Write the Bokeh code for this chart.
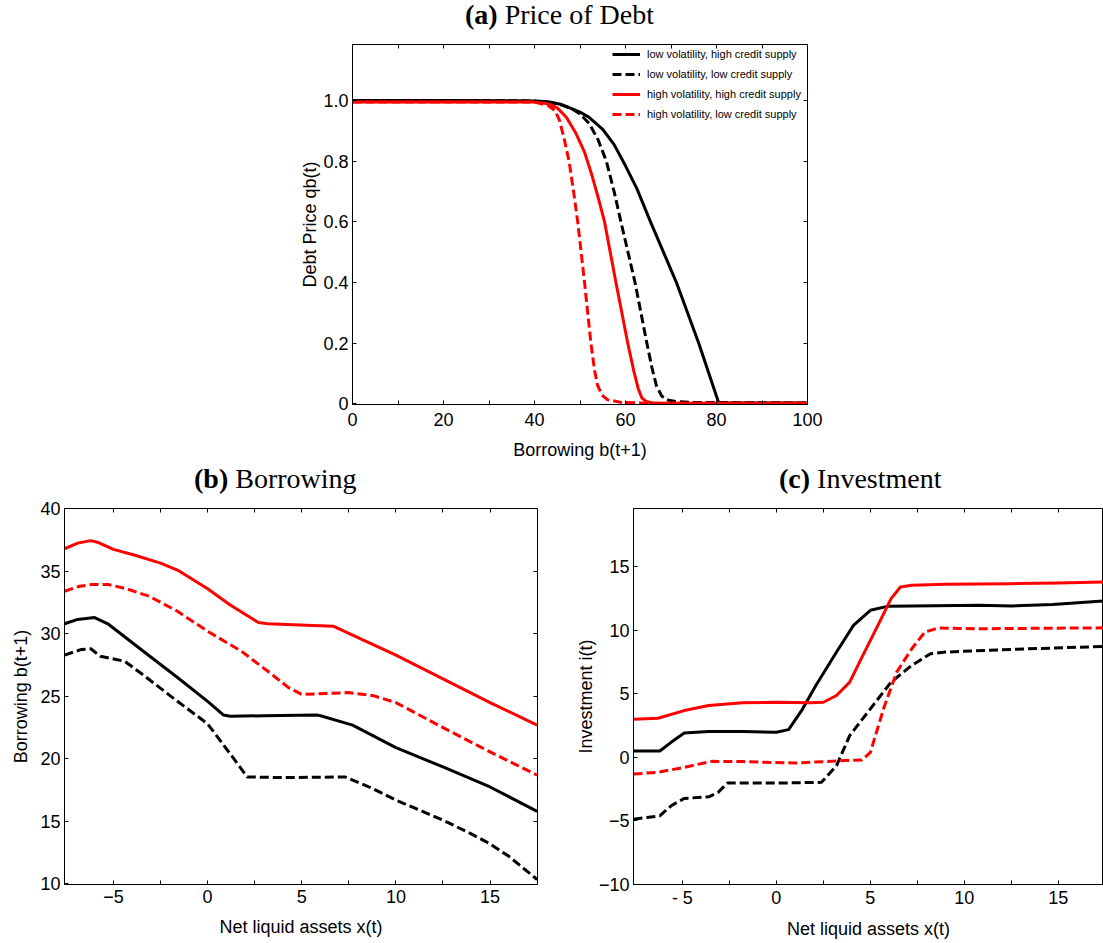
from bokeh.plotting import figure
from bokeh.models import Range1d, FixedTicker, LinearAxis, Legend, LegendItem, Div
from bokeh.layouts import column, row
from bokeh.embed import file_html
from bokeh.resources import INLINE

# ---------------- (a) Price of Debt ----------------
b_lv_hc = [0, 20, 40, 43, 46, 50, 52, 55, 57.5, 60, 62.5, 65.5, 71.2, 76.1, 80.5, 90, 100]
q_lv_hc = [1.0, 1.0, 0.999, 0.996, 0.987, 0.962, 0.945, 0.905, 0.855, 0.785, 0.71, 0.6, 0.4, 0.2, 0.003, 0.003, 0.003]

b_lv_lc = [0, 20, 40, 45, 48, 50, 52, 54, 55.8, 57.5, 59, 62.1, 64.7, 65.8, 66.8, 68, 69.5, 71, 75, 100]
q_lv_lc = [1.0, 1.0, 0.999, 0.99, 0.975, 0.956, 0.925, 0.87, 0.8, 0.7, 0.6, 0.4, 0.2, 0.12, 0.06, 0.025, 0.012, 0.008, 0.005, 0.003]

b_hv_hc = [0, 20, 40, 43, 45, 47, 49, 51, 52.5, 54, 55.4, 57.9, 60.5, 61.8, 62.8, 63.6, 64.5, 66, 100]
q_hv_hc = [0.995, 0.995, 0.995, 0.99, 0.976, 0.945, 0.895, 0.83, 0.76, 0.68, 0.6, 0.4, 0.2, 0.11, 0.05, 0.02, 0.008, 0.003, 0.002]

b_hv_lc = [0, 20, 40, 43, 44.5, 45.5, 46.5, 47.6, 48.5, 49.5, 51, 52.4, 53.2, 53.9, 54.8, 56, 59, 65, 100]
q_hv_lc = [0.995, 0.995, 0.995, 0.984, 0.967, 0.935, 0.875, 0.8, 0.71, 0.6, 0.4, 0.2, 0.11, 0.06, 0.03, 0.014, 0.005, 0.002, 0.002]

series_labels = ["low volatility, high credit supply", "low volatility, low credit supply",
                 "high volatility, high credit supply", "high volatility, low credit supply"]

# ---------------- (b) Borrowing ----------------
xb_hv_hc = [-7.6, -6.9, -6.2, -5.8, -5.0, -3.9, -2.5, -1.6, 0, 1.2, 2.7, 3.2, 4.9, 6.7, 7.7, 10, 12.5, 15, 17.5]
bb_hv_hc = [36.8, 37.25, 37.45, 37.3, 36.75, 36.3, 35.65, 35.1, 33.6, 32.3, 30.9, 30.8, 30.7, 30.6, 29.9, 28.3, 26.4, 24.5, 22.7]

xb_hv_lc = [-7.6, -6.8, -6.1, -5.3, -4.3, -3.1, -1.6, 0, 1.8, 3.2, 4.3, 5.0, 5.8, 7.5, 8.8, 10, 12.5, 15, 17.5]
bb_hv_lc = [33.4, 33.8, 33.95, 33.95, 33.6, 33.0, 31.8, 30.2, 28.6, 27.0, 25.7, 25.15, 25.2, 25.3, 25.05, 24.5, 22.5, 20.55, 18.7]

xb_lv_hc = [-7.6, -6.9, -6.0, -5.3, -3.5, -1.6, 0, 0.85, 1.2, 3, 5.8, 6.0, 7.7, 10, 12.5, 15, 17.5]
bb_lv_hc = [30.8, 31.15, 31.3, 30.8, 28.7, 26.5, 24.6, 23.5, 23.4, 23.45, 23.5, 23.45, 22.7, 20.9, 19.35, 17.75, 15.8]

xb_lv_lc = [-7.6, -6.7, -6.2, -5.7, -4.4, -3.5, -1.6, 0, 1.2, 2.1, 4.0, 7.3, 8.8, 10, 12.5, 14, 15, 16, 17.5]
bb_lv_lc = [28.3, 28.75, 28.8, 28.2, 27.8, 26.8, 24.6, 22.8, 20.4, 18.55, 18.5, 18.55, 17.6, 16.7, 15.1, 14.0, 13.2, 12.2, 10.35]

# ---------------- (c) Investment ----------------
xi_hv_hc = [-7.6, -6.3, -4.9, -3.6, -1.8, 0, 1.8, 2.5, 3.2, 3.9, 4.6, 5.4, 6.1, 6.6, 7.2, 9.0, 12.5, 15, 17.5]
ii_hv_hc = [3.0, 3.08, 3.68, 4.08, 4.29, 4.34, 4.29, 4.34, 4.87, 5.92, 8.03, 10.39, 12.5, 13.42, 13.55, 13.63, 13.68, 13.74, 13.82]

xi_lv_hc = [-7.6, -6.2, -5.6, -4.9, -3.6, -1.8, 0, 0.65, 1.4, 2.1, 3.2, 4.1, 5.0, 5.9, 7.2, 10.8, 12.5, 14.7, 17.5]
ii_lv_hc = [0.5, 0.5, 1.18, 1.92, 2.03, 2.03, 1.97, 2.18, 3.82, 5.66, 8.29, 10.39, 11.58, 11.89, 11.92, 11.97, 11.92, 12.03, 12.32]

xi_hv_lc = [-7.6, -6.3, -4.9, -3.45, -1.8, 1.0, 3.6, 4.55, 5.0, 5.7, 6.4, 7.2, 7.9, 8.6, 10.8, 17.5]
ii_hv_lc = [-1.32, -1.18, -0.79, -0.32, -0.34, -0.45, -0.26, -0.21, 0.39, 3.82, 6.71, 8.55, 9.87, 10.18, 10.13, 10.2]

xi_lv_lc = [-7.6, -6.2, -5.6, -4.9, -3.6, -3.1, -2.6, 0, 2.4, 3.2, 3.9, 5.0, 6.1, 7.2, 8.2, 9.0, 12.5, 17.5]
ii_lv_lc = [-4.87, -4.61, -3.82, -3.24, -3.11, -2.76, -2.03, -2.03, -1.97, -0.66, 1.71, 3.82, 5.92, 7.24, 8.16, 8.29, 8.5, 8.74]

# tick definitions
a_xticks, a_xminor = [0, 20, 40, 60, 80, 100], [10, 30, 50, 70, 90]
a_yticks = [0, 0.2, 0.4, 0.6, 0.8, 1.0]
a_ylabels = {0: "0", 0.2: "0.2", 0.4: "0.4", 0.6: "0.6", 0.8: "0.8", 1.0: "1.0"}
bc_xticks, bc_xminor = [-5, 0, 5, 10, 15], [-2.5, 2.5, 7.5, 12.5]
b_yticks = [10, 15, 20, 25, 30, 35, 40]
c_yticks = [-10, -5, 0, 5, 10, 15]
c_xlabels = {-5: "- 5"}

# panel titles: bold tag + plain text
title_tags = ["(a)", "(b)", "(c)"]
title_texts = ["Price of Debt", "Borrowing", "Investment"]

SANS = "Liberation Sans"
SERIF = "Liberation Serif"
DASH = "9 4"
LW = 3
W = 1103


def style_axis(ax, major, minor, overrides=None):
    ax.ticker = FixedTicker(ticks=major, minor_ticks=minor)
    ax.major_tick_in = 4
    ax.major_tick_out = 0
    ax.minor_tick_in = 4
    ax.minor_tick_out = 0
    ax.axis_line_color = "black"
    ax.major_tick_line_color = "black"
    ax.minor_tick_line_color = "black"
    ax.major_label_text_font = SANS
    ax.major_label_text_font_size = "18px"
    ax.major_label_text_color = "black"
    ax.axis_label_text_font = SANS
    ax.axis_label_text_font_size = "18px"
    ax.axis_label_text_font_style = "normal"
    ax.axis_label_text_color = "black"
    ax.major_label_standoff = 4
    if overrides:
        ax.major_label_overrides = overrides


def mirror(p, side, minor):
    ax = LinearAxis(ticker=FixedTicker(ticks=[], minor_ticks=minor))
    ax.axis_line_color = None
    ax.major_tick_in = 0
    ax.major_tick_out = 0
    ax.minor_tick_in = 4
    ax.minor_tick_out = 0
    ax.minor_tick_line_color = "black"
    ax.major_label_standoff = 0
    p.add_layout(ax, side)


def make_fig(xr, yr, fw, fh, bl, br, bt, bb):
    p = figure(x_range=Range1d(*xr), y_range=Range1d(*yr), frame_width=fw, frame_height=fh,
               min_border_left=bl, min_border_right=br, min_border_top=bt, min_border_bottom=bb,
               output_backend="svg", toolbar_location=None)
    p.xgrid.visible = False
    p.ygrid.visible = False
    p.outline_line_color = "black"
    p.outline_line_width = 1
    p.outline_line_alpha = 1
    p.background_fill_color = "white"
    p.border_fill_color = "white"
    return p


def title_div(tag, txt, width, height, indent):
    return Div(text=f"<b>{tag}</b> {txt}", width=width, height=height,
               styles={"font-family": SERIF, "font-size": "28px", "line-height": f"{height}px",
                       "text-indent": f"{indent}px", "white-space": "nowrap", "color": "black",
                       "margin": "0", "padding": "0", "overflow": "hidden"})


def four_lines(p, xs, ys):
    styles = [("black", "solid"), ("black", DASH), ("red", "solid"), ("red", DASH)]
    rs = []
    for (x, y), (c, d) in zip(zip(xs, ys), styles):
        rs.append(p.line(x, y, line_color=c, line_dash=d, line_width=LW, line_join="round"))
    return rs


# ---- title (a)
ta = title_div(title_tags[0], title_texts[0], W, 30, 465)

# ---- figure (a)
pa = make_fig((0, 100), (-0.002, 1.185), 455, 360, 352, 296, 14, 56)
ra = four_lines(pa, [b_lv_hc, b_lv_lc, b_hv_hc, b_hv_lc], [q_lv_hc, q_lv_lc, q_hv_hc, q_hv_lc])
style_axis(pa.xaxis[0], a_xticks, a_xminor)
style_axis(pa.yaxis[0], a_yticks, [], a_ylabels)
pa.xaxis[0].axis_label = "Borrowing b(t+1)"
pa.yaxis[0].axis_label = "Debt Price qb(t)"
pa.xaxis[0].major_label_standoff = 8
pa.xaxis[0].axis_label_standoff = 11
pa.yaxis[0].axis_label_standoff = 0
mirror(pa, "above", a_xminor + [20, 40, 60, 80])
mirror(pa, "right", [0.2, 0.4, 0.6, 0.8, 1.0])
legend = Legend(items=[LegendItem(label=lab, renderers=[r]) for lab, r in zip(series_labels, ra)],
                location="top_right", label_text_font=SANS, label_text_font_size="11px",
                label_text_color="black", glyph_width=28, glyph_height=20, label_height=20,
                label_width=160, label_standoff=7, spacing=0, padding=5, margin=0,
                border_line_color=None, background_fill_alpha=0)
pa.add_layout(legend)

# ---- titles (b), (c)
tb = title_div(title_tags[1], title_texts[1], 570, 33, 194)
tc = title_div(title_tags[2], title_texts[2], 533, 33, 209)

# ---- figure (b)
pb = make_fig((-7.6, 17.52), (9.95, 40.02), 473, 376, 64, 33, 13, 61)
four_lines(pb, [xb_lv_hc, xb_lv_lc, xb_hv_hc, xb_hv_lc], [bb_lv_hc, bb_lv_lc, bb_hv_hc, bb_hv_lc])
style_axis(pb.xaxis[0], bc_xticks, bc_xminor)
style_axis(pb.yaxis[0], b_yticks, [])
pb.xaxis[0].axis_label = "Net liquid assets x(t)"
pb.yaxis[0].axis_label = "Borrowing b(t+1)"
pb.xaxis[0].major_label_standoff = 5
pb.xaxis[0].axis_label_standoff = 11
pb.yaxis[0].axis_label_standoff = 6
mirror(pb, "above", bc_xticks + bc_xminor)
mirror(pb, "right", [15, 20, 25, 30, 35])

# ---- figure (c)
pc = make_fig((-7.6, 17.4), (-10.02, 19.6), 470, 376, 63, 0, 13, 61)
four_lines(pc, [xi_lv_hc, xi_lv_lc, xi_hv_hc, xi_hv_lc], [ii_lv_hc, ii_lv_lc, ii_hv_hc, ii_hv_lc])
style_axis(pc.xaxis[0], bc_xticks, bc_xminor, c_xlabels)
style_axis(pc.yaxis[0], c_yticks, [])
pc.xaxis[0].axis_label = "Net liquid assets x(t)"
pc.yaxis[0].axis_label = "Investment i(t)"
pc.xaxis[0].major_label_standoff = 3
pc.xaxis[0].axis_label_standoff = 8
pc.yaxis[0].axis_label_standoff = 0
mirror(pc, "above", bc_xticks + bc_xminor)

layout = column(ta, pa, row(tb, tc), row(pb, pc))
open("out.html", "w").write(file_html(layout, INLINE))
